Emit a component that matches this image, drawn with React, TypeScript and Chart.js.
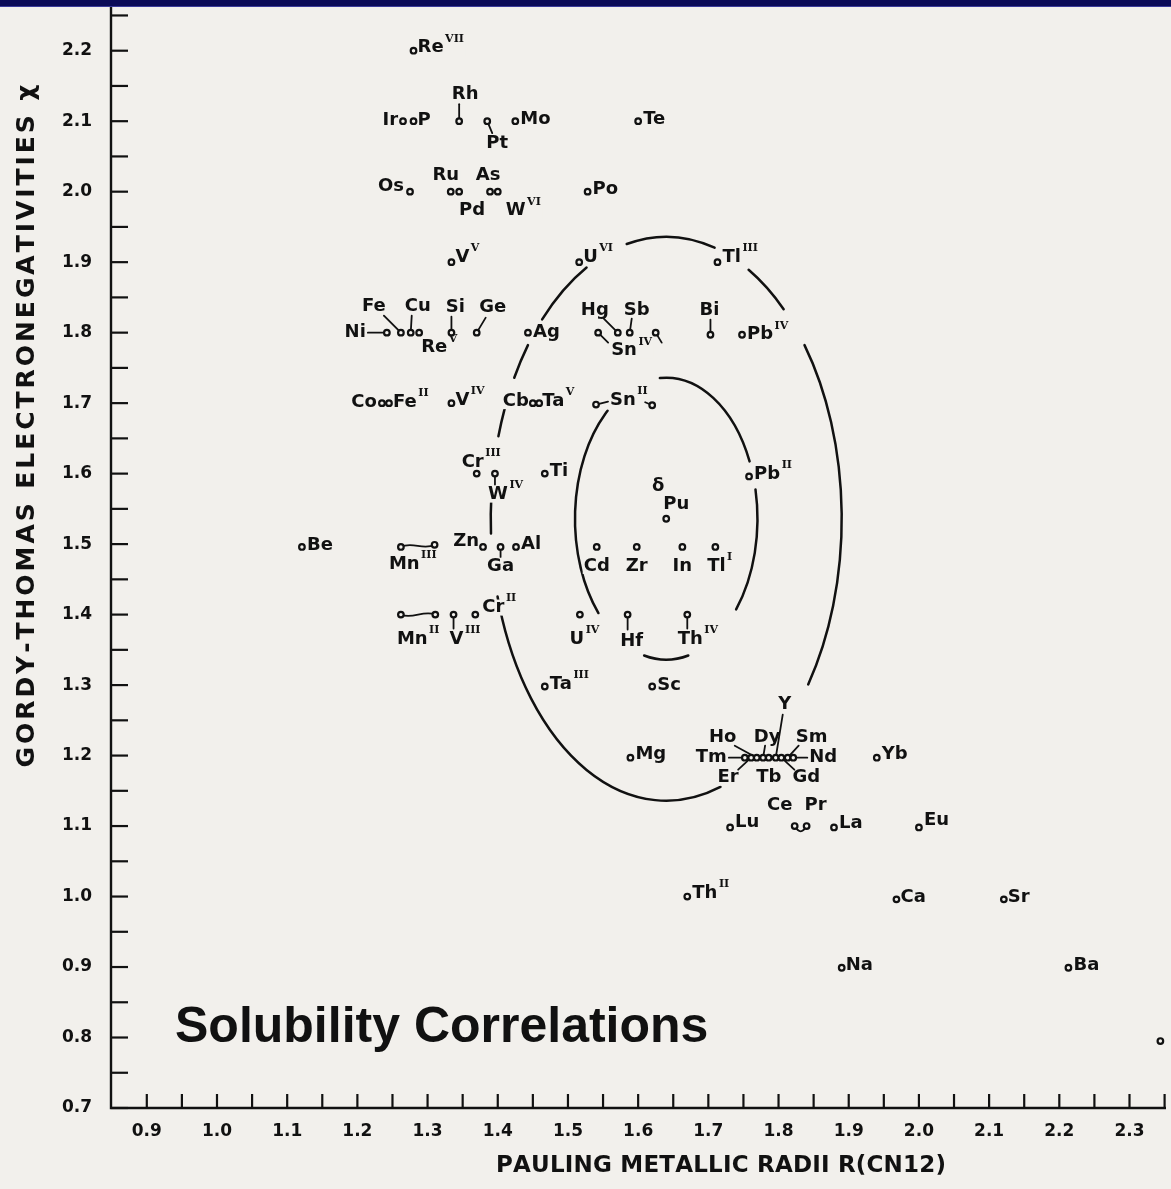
import React, { useEffect, useRef } from "react";
import { Chart, registerables } from "chart.js";

Chart.register(...registerables);

// ---------------- data ----------------
const ELEMENTS = [
  "Re", "Ir", "P", "Rh", "Pt", "Mo", "Te", "Os", "Ru", "Pd", "As", "W", "Po",
  "V", "U", "Tl", "Ni", "Fe", "Cu", "Re", "Si", "Ge", "Ag", "Sn", "Hg", "Sb", "",
  "Bi", "Pb", "Co", "Fe", "V", "Cb", "Ta", "Sn", "", "Cr", "W", "Ti", "Pb", "Pu",
  "Be", "Mn", "", "Zn", "Ga", "Al", "Cd", "Zr", "In", "Tl", "Mn", "", "V", "Cr",
  "U", "Hf", "Th", "Ta", "Sc", "Mg", "Tm", "Er", "Ho", "Dy", "Tb", "Y", "Gd", "Sm",
  "Nd", "Yb", "Lu", "Ce", "Pr", "La", "Eu", "Th", "Ca", "Sr", "Na", "Ba", "",
];
const VALENCES = [
  "VII", "", "", "", "", "", "", "", "", "", "", "VI", "",
  "V", "VI", "III", "", "", "", "V", "", "", "", "IV", "", "", "",
  "", "IV", "", "II", "IV", "", "V", "II", "", "III", "IV", "", "II", "",
  "", "III", "", "", "", "", "", "", "", "I", "II", "", "III", "II",
  "IV", "", "IV", "III", "", "", "", "", "", "", "", "", "", "",
  "", "", "", "", "", "", "", "II", "", "", "", "", "",
];
const PHASES = ELEMENTS.map((e) => (e === "Pu" ? "δ" : ""));
const RADII = [
  1.28, 1.265, 1.28, 1.345, 1.385, 1.425, 1.6, 1.275, 1.333, 1.345, 1.389, 1.4, 1.528,
  1.334, 1.516, 1.713, 1.242, 1.262, 1.276, 1.288, 1.334, 1.37, 1.443, 1.543, 1.571, 1.588, 1.625,
  1.703, 1.748, 1.235, 1.245, 1.334, 1.45, 1.459, 1.54, 1.62, 1.37, 1.396, 1.467, 1.758, 1.64,
  1.121, 1.262, 1.31, 1.379, 1.404, 1.426, 1.541, 1.598, 1.663, 1.71, 1.262, 1.311, 1.337, 1.368,
  1.517, 1.585, 1.67, 1.467, 1.62, 1.589, 1.752, 1.761, 1.769, 1.778, 1.786, 1.796, 1.804, 1.813,
  1.821, 1.94, 1.731, 1.823, 1.84, 1.879, 2.0, 1.67, 1.968, 2.121, 1.89, 2.213, 2.344,
];
const ELECTRONEGATIVITY = [
  2.2, 2.1, 2.1, 2.1, 2.1, 2.1, 2.1, 2.0, 2.0, 2.0, 2.0, 2.0, 2.0,
  1.9, 1.9, 1.9, 1.8, 1.8, 1.8, 1.8, 1.8, 1.8, 1.8, 1.8, 1.8, 1.8, 1.8,
  1.797, 1.797, 1.7, 1.7, 1.7, 1.7, 1.7, 1.698, 1.697, 1.6, 1.6, 1.6, 1.596, 1.536,
  1.496, 1.496, 1.499, 1.496, 1.496, 1.496, 1.496, 1.496, 1.496, 1.496, 1.4, 1.4, 1.4, 1.4,
  1.4, 1.4, 1.4, 1.298, 1.298, 1.197, 1.197, 1.197, 1.197, 1.197, 1.197, 1.197, 1.197, 1.197,
  1.197, 1.197, 1.098, 1.1, 1.1, 1.098, 1.098, 1.0, 0.996, 0.996, 0.899, 0.899, 0.795,
];
const X_TICK_LABELS = ["0.9", "1.0", "1.1", "1.2", "1.3", "1.4", "1.5", "1.6", "1.7", "1.8", "1.9", "2.0", "2.1", "2.2", "2.3"];
const Y_TICK_LABELS = ["0.7", "0.8", "0.9", "1.0", "1.1", "1.2", "1.3", "1.4", "1.5", "1.6", "1.7", "1.8", "1.9", "2.0", "2.1", "2.2"];
const X_TITLE = "PAULING METALLIC RADII R(CN12)";
const Y_TITLE = "GORDY-THOMAS ELECTRONEGATIVITIES χ";
const CAPTION = "Solubility Correlations";
// Darken–Gurry ellipses centred on δ-Pu: ±15 % / ±0.4 and ±8 % / ±0.2
const ELLIPSE_CENTER = [1.64, 1.536];
const OUTER_HALF = [0.25, 0.4];
const INNER_HALF = [0.13, 0.2];

// ---------------- layout / style ----------------
const X_MIN = 0.849, X_MAX = 2.352, Y_MIN = 0.7, Y_MAX = 2.262;
const PAPER = "#f2f0ec";
const INK = "#111111";
const NAVY = "#0b0b57";
const LABEL_FONT = "bold 18px 'DejaVu Sans'";
const SUP_FONT = "bold 11px 'DejaVu Serif'";
const TICK_FONT = { family: "DejaVu Sans", weight: "bold" as const, size: 17 };
const OUTER_ARCS = [[257, 286], [298, 312], [322, 396], [72, 164], [177, 185], [197, 203], [210, 218], [225, 243]];
const INNER_ARCS = [[138, 230], [266, 336], [348, 400], [76, 104]];

type Lay = {
  dx?: number; dy?: number; a?: "l" | "r" | "c";
  lead?: [number, number];
  link?: { to: number; b1: number; b2: number };
  note?: [number, number];
};
const LABEL_LAYOUT: Lay[] = [
  { dx: 4, dy: -3, a: "l" }, { dx: -5, dy: -1, a: "r" }, { dx: 4, dy: -1, a: "l" },
  { dx: 6, dy: -27, a: "c", lead: [0, -17] }, { dx: 10, dy: 22, a: "c", lead: [5, 12] },
  { dx: 5, dy: -2, a: "l" }, { dx: 5, dy: -2, a: "l" }, { dx: -6, dy: -5, a: "r" },
  { dx: -5, dy: -16, a: "c" }, { dx: 13, dy: 19, a: "c" }, { dx: -2, dy: -16, a: "c" },
  { dx: 8, dy: 19, a: "l" }, { dx: 5, dy: -2, a: "l" },
  { dx: 4, dy: -5, a: "l" }, { dx: 4, dy: -5, a: "l" }, { dx: 5, dy: -5, a: "l" },
  { dx: -21, dy: 0, a: "r", lead: [-19, 0] }, { dx: -27, dy: -26, a: "c", lead: [-17, -17] },
  { dx: 7, dy: -26, a: "c", lead: [1, -17] }, { dx: 2, dy: 15, a: "l" },
  { dx: 4, dy: -25, a: "c", lead: [0, -16] }, { dx: 16, dy: -25, a: "c", lead: [9, -15] },
  { dx: 5, dy: 0, a: "l" }, { dx: 13, dy: 18, a: "l", lead: [10, 10] },
  { dx: -23, dy: -22, a: "c", lead: [-14, -14] }, { dx: 7, dy: -22, a: "c", lead: [2, -14] },
  { lead: [6, 10] },
  { dx: -1, dy: -24, a: "c", lead: [0, -15] }, { dx: 5, dy: 0, a: "l" },
  { dx: -5, dy: -1, a: "r" }, { dx: 4, dy: -1, a: "l" }, { dx: 4, dy: -3, a: "l" },
  { dx: -4, dy: -2, a: "r" }, { dx: 3, dy: -2, a: "l" },
  { dx: 14, dy: -4, a: "l", lead: [12, -3] }, { lead: [-7, -3] },
  { dx: -4, dy: -11, a: "c" }, { dx: 3, dy: 21, a: "c", lead: [0, 11] },
  { dx: 5, dy: -2, a: "l" }, { dx: 5, dy: -2, a: "l" },
  { dx: -3, dy: -14, a: "l", note: [-8, -32] },
  { dx: 5, dy: -2, a: "l" }, { dx: -12, dy: 17, a: "l", link: { to: 43, b1: -5, b2: 5 } }, {},
  { dx: -4, dy: -6, a: "r" }, { dx: 0, dy: 19, a: "c", lead: [0, 10] }, { dx: 5, dy: -3, a: "l" },
  { dx: 0, dy: 19, a: "c" }, { dx: 0, dy: 19, a: "c" }, { dx: 0, dy: 19, a: "c" }, { dx: 1, dy: 19, a: "c" },
  { dx: -4, dy: 25, a: "l", link: { to: 52, b1: 5, b2: -5 } }, {},
  { dx: 3, dy: 25, a: "c", lead: [0, 14] }, { dx: 7, dy: -7, a: "l" },
  { dx: -3, dy: 25, a: "c" }, { dx: 4, dy: 27, a: "c", lead: [0, 15] }, { dx: 3, dy: 25, a: "c", lead: [0, 14] },
  { dx: 5, dy: -2, a: "l" }, { dx: 5, dy: -1, a: "l" }, { dx: 5, dy: -3, a: "l" },
  { dx: -18, dy: 0, a: "r", lead: [-16, 0] }, { dx: -23, dy: 20, a: "c", lead: [-13, 12] },
  { dx: -34, dy: -20, a: "c", lead: [-22, -12] }, { dx: 4, dy: -20, a: "c", lead: [2, -12] },
  { dx: 0, dy: 20, a: "c" }, { dx: 9, dy: -53, a: "c", lead: [7, -43] },
  { dx: 25, dy: 20, a: "c", lead: [13, 12] }, { dx: 24, dy: -20, a: "c", lead: [11, -12] },
  { dx: 16, dy: 0, a: "l", lead: [14, 0] },
  { dx: 5, dy: -3, a: "l" }, { dx: 5, dy: -5, a: "l" },
  { dx: -15, dy: -21, a: "c", link: { to: 73, b1: 7, b2: 7 } }, { dx: 9, dy: -21, a: "c" },
  { dx: 5, dy: -4, a: "l" }, { dx: 5, dy: -7, a: "l" }, { dx: 5, dy: -3, a: "l" },
  { dx: 4, dy: -2, a: "l" }, { dx: 4, dy: -2, a: "l" }, { dx: 4, dy: -2, a: "l" }, { dx: 5, dy: -2, a: "l" },
  {},
];

const r2 = (v: number) => Math.round(v * 100) / 100;
const tickValues = (labels: string[]) => {
  const majors = labels.map(Number);
  const minors = majors.map((v) => r2(v + 0.05));
  return [...majors, ...minors].sort((a, b) => a - b);
};
const labelFor = (labels: string[], v: number) => {
  const hit = labels.find((l) => Math.abs(Number(l) - v) < 1e-6);
  return hit === undefined ? "" : hit;
};

function spacedText(ctx: CanvasRenderingContext2D, text: string, cx: number, cy: number, len: number) {
  const chars = Array.from(text);
  const widths = chars.map((c) => ctx.measureText(c).width);
  const total = widths.reduce((a, b) => a + b, 0);
  const gap = (len - total) / (chars.length - 1);
  let x = cx - len / 2;
  ctx.textAlign = "left";
  ctx.textBaseline = "middle";
  chars.forEach((c, i) => {
    ctx.fillText(c, x, cy);
    x += widths[i] + gap;
  });
}

const figurePlugin = {
  id: "figure",
  beforeDatasetsDraw(chart: any) {
    const { ctx, scales } = chart;
    const xs = scales.x, ys = scales.y;
    ctx.save();
    const cx = xs.getPixelForValue(ELLIPSE_CENTER[0]);
    const cy = ys.getPixelForValue(ELLIPSE_CENTER[1]);
    const arcs = (half: number[], list: number[][]) => {
      const rx = Math.abs(xs.getPixelForValue(ELLIPSE_CENTER[0] + half[0]) - cx);
      const ry = Math.abs(ys.getPixelForValue(ELLIPSE_CENTER[1] + half[1]) - cy);
      for (const [a0, a1] of list) {
        ctx.beginPath();
        ctx.ellipse(cx, cy, rx, ry, 0, (a0 * Math.PI) / 180, (a1 * Math.PI) / 180);
        ctx.stroke();
      }
    };
    ctx.strokeStyle = INK;
    ctx.lineWidth = 2.5;
    ctx.lineCap = "round";
    arcs(OUTER_HALF, OUTER_ARCS);
    arcs(INNER_HALF, INNER_ARCS);

    const meta = chart.getDatasetMeta(0);
    const boxes: any[] = [];
    meta.data.forEach((pt: any, i: number) => {
      const L = LABEL_LAYOUT[i] || {};
      const name = ELEMENTS[i];
      if (!name) return;
      ctx.font = LABEL_FONT;
      const w = ctx.measureText(name).width;
      ctx.font = SUP_FONT;
      const sw = VALENCES[i] ? ctx.measureText(VALENCES[i]).width + 2 : 0;
      const ax = pt.x + (L.dx || 0);
      const left = L.a === "r" ? ax - w : L.a === "c" ? ax - w / 2 : ax;
      const my = pt.y + (L.dy || 0);
      boxes.push({ i, left, my, w, sw, pt, L });
    });
    ctx.fillStyle = PAPER;
    boxes.forEach((b) => ctx.fillRect(b.left - 1, b.my - 8, b.w + b.sw + 2, 16));
    ctx.strokeStyle = INK;
    ctx.lineWidth = 1.8;
    meta.data.forEach((pt: any, i: number) => {
      const L = LABEL_LAYOUT[i] || {};
      if (L.lead) {
        ctx.beginPath();
        ctx.moveTo(pt.x, pt.y);
        ctx.lineTo(pt.x + L.lead[0], pt.y + L.lead[1]);
        ctx.stroke();
      }
      if (L.link) {
        const q = meta.data[L.link.to];
        const dx = q.x - pt.x, dy = q.y - pt.y;
        ctx.beginPath();
        ctx.moveTo(pt.x, pt.y);
        ctx.bezierCurveTo(pt.x + dx / 3, pt.y + dy / 3 + L.link.b1, pt.x + (2 * dx) / 3, pt.y + (2 * dy) / 3 + L.link.b2, q.x, q.y);
        ctx.stroke();
      }
    });
    ctx.fillStyle = INK;
    ctx.textBaseline = "middle";
    ctx.textAlign = "left";
    boxes.forEach((b) => {
      ctx.font = LABEL_FONT;
      ctx.fillText(ELEMENTS[b.i], b.left, b.my);
      if (VALENCES[b.i]) {
        ctx.font = SUP_FONT;
        ctx.fillText(VALENCES[b.i], b.left + b.w + 1.5, b.my - 9);
      }
      if (PHASES[b.i] && b.L.note) {
        ctx.font = LABEL_FONT;
        ctx.textAlign = "center";
        ctx.fillText(PHASES[b.i], b.pt.x + b.L.note[0], b.pt.y + b.L.note[1]);
        ctx.textAlign = "left";
      }
    });
    ctx.restore();
  },
  afterDraw(chart: any) {
    const { ctx, chartArea, scales } = chart;
    const xs = scales.x, ys = scales.y;
    ctx.save();
    ctx.strokeStyle = INK;
    ctx.lineWidth = 2.4;
    ctx.lineCap = "butt";
    ctx.beginPath();
    ctx.moveTo(chartArea.left, chartArea.top);
    ctx.lineTo(chartArea.left, chartArea.bottom);
    ctx.lineTo(chartArea.right, chartArea.bottom);
    ctx.stroke();
    ctx.lineWidth = 2.2;
    ys.ticks.forEach((t: any) => {
      const py = ys.getPixelForValue(t.value);
      ctx.beginPath();
      ctx.moveTo(chartArea.left, py);
      ctx.lineTo(chartArea.left + 17, py);
      ctx.stroke();
    });
    xs.ticks.forEach((t: any) => {
      const px = xs.getPixelForValue(t.value);
      ctx.beginPath();
      ctx.moveTo(px, chartArea.bottom);
      ctx.lineTo(px, chartArea.bottom - 14);
      ctx.stroke();
    });
    ctx.fillStyle = INK;
    ctx.font = "bold 25px 'DejaVu Sans'";
    ctx.save();
    ctx.translate(27, 426);
    ctx.rotate(-Math.PI / 2);
    spacedText(ctx, Y_TITLE, 0, 0, 683);
    ctx.restore();
    ctx.font = "bold 23px 'DejaVu Sans'";
    spacedText(ctx, X_TITLE, 721, 1166, 450);
    ctx.font = "bold 50px 'Liberation Sans'";
    ctx.textAlign = "left";
    ctx.textBaseline = "alphabetic";
    ctx.fillText(CAPTION, 175, 1042);
    ctx.restore();
  },
};

export default function App() {
  const ref = useRef<HTMLCanvasElement>(null);
  useEffect(() => {
    if (!ref.current) return;
    const X_TICKS = tickValues(X_TICK_LABELS);
    const Y_TICKS = tickValues(Y_TICK_LABELS);
    const chart = new Chart(ref.current, {
      type: "scatter",
      data: {
        datasets: [
          {
            data: RADII.map((r, i) => ({ x: r, y: ELECTRONEGATIVITY[i] })),
            pointRadius: 2.8,
            pointHoverRadius: 2.8,
            pointBorderWidth: 2.2,
            pointBackgroundColor: PAPER,
            pointBorderColor: INK,
            showLine: false,
          },
        ],
      },
      options: {
        responsive: false,
        maintainAspectRatio: false,
        devicePixelRatio: 1,
        animation: false,
        events: [],
        layout: { padding: { top: 7, left: 0, right: 0, bottom: 0 } },
        plugins: { legend: { display: false }, tooltip: { enabled: false }, title: { display: false } },
        scales: {
          x: {
            type: "linear",
            min: X_MIN,
            max: X_MAX,
            grid: { display: false, drawTicks: false },
            border: { display: false },
            afterBuildTicks: (s: any) => { s.ticks = X_TICKS.map((v) => ({ value: v })); },
            afterFit: (s: any) => { s.height = 81; s.paddingLeft = 0; s.paddingRight = 0; },
            ticks: {
              autoSkip: false, maxRotation: 0, minRotation: 0, padding: 13,
              color: INK, font: TICK_FONT,
              callback: (v: any) => labelFor(X_TICK_LABELS, Number(v)),
            },
          },
          y: {
            type: "linear",
            min: Y_MIN,
            max: Y_MAX,
            grid: { display: false, drawTicks: false },
            border: { display: false },
            afterBuildTicks: (s: any) => { s.ticks = Y_TICKS.map((v) => ({ value: v })); },
            afterFit: (s: any) => { s.width = 111; s.paddingTop = 0; s.paddingBottom = 0; },
            ticks: {
              autoSkip: false, padding: 19,
              color: INK, font: TICK_FONT,
              callback: (v: any) => labelFor(Y_TICK_LABELS, Number(v)),
            },
          },
        },
      },
      plugins: [figurePlugin],
    } as any);
    return () => chart.destroy();
  }, []);
  return (
    <div style={{ position: "absolute", left: 0, top: 0, width: 1171, height: 1189, background: PAPER, overflow: "hidden" }}>
      <canvas ref={ref} width={1171} height={1189} style={{ position: "absolute", left: 0, top: 0, width: 1171, height: 1189 }} />
      <div style={{ position: "absolute", left: 0, top: 0, width: "100%", height: 6, background: NAVY, borderBottom: "1px solid #3b3b9a" }} />
    </div>
  );
}
